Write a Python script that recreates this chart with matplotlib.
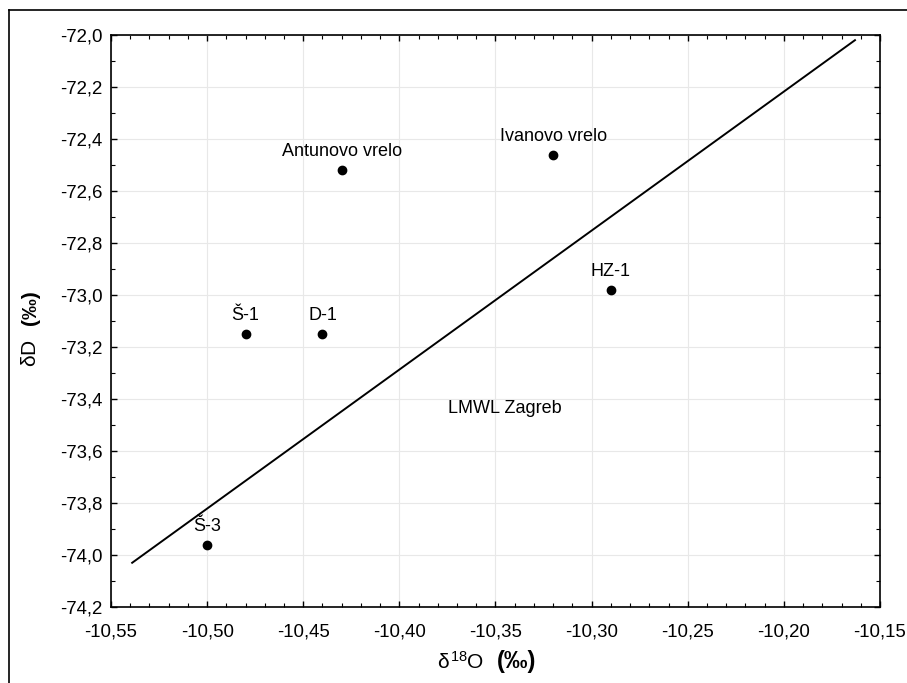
import matplotlib
matplotlib.use("Agg")
import matplotlib.pyplot as plt
from matplotlib.ticker import MultipleLocator, FuncFormatter
from matplotlib.lines import Line2D

plt.rcParams["font.family"] = ["Liberation Sans", "DejaVu Sans"]
plt.rcParams["mathtext.fontset"] = "custom"
plt.rcParams["mathtext.rm"] = "Liberation Sans"
plt.rcParams["mathtext.it"] = "Liberation Sans"
plt.rcParams["mathtext.bf"] = "Liberation Sans:bold"

# data
names = ["Antunovo vrelo", "Ivanovo vrelo", "HZ-1", "Š-1", "D-1", "Š-3"]
d18o = [-10.43, -10.32, -10.29, -10.48, -10.44, -10.50]
dD = [-72.52, -72.46, -72.98, -73.15, -73.15, -73.96]

# LMWL Zagreb
lmwl_x = [-10.539, -10.163]
lmwl_y = [-74.03, -72.02]

fig = plt.figure(figsize=(9.07, 6.83), dpi=100)
ax = fig.add_axes([0.1224, 0.1113, 0.8478, 0.8375])

ax.plot(lmwl_x, lmwl_y, color="black", lw=1.4, zorder=3)
ax.plot(d18o, dD, "o", color="black", ms=6, zorder=4)
for n, x, y in zip(names, d18o, dD):
    ax.annotate(n, (x, y), xytext=(0, 7), textcoords="offset points",
                ha="center", va="bottom", fontsize=13)
ax.text(-10.345, -73.435, "LMWL Zagreb", ha="center", va="center", fontsize=13)

ax.set_xlim(-10.55, -10.15)
ax.set_ylim(-74.2, -72.0)
ax.xaxis.set_major_locator(MultipleLocator(0.05))
ax.xaxis.set_minor_locator(MultipleLocator(0.01))
ax.yaxis.set_major_locator(MultipleLocator(0.2))
ax.yaxis.set_minor_locator(MultipleLocator(0.1))
ax.xaxis.set_major_formatter(FuncFormatter(lambda v, p: f"{v:.2f}".replace(".", ",")))
ax.yaxis.set_major_formatter(FuncFormatter(lambda v, p: f"{v:.1f}".replace(".", ",")))
ax.tick_params(which="both", direction="in", top=True, right=True, labelsize=13.4)
ax.tick_params(which="major", length=4, width=1)
ax.tick_params(which="minor", length=3, width=0.8)
ax.tick_params(axis="x", pad=12)
ax.tick_params(axis="y", pad=6)
ax.grid(True, which="major", color="#e8e8e8", lw=0.8)
ax.set_axisbelow(True)
for s in ax.spines.values():
    s.set_linewidth(1.2)

# axis titles: plain delta part + bold per-mille part
ax.text(0.454, -0.096, r"$\delta^{18}$O", transform=ax.transAxes,
        ha="center", va="center", fontsize=15)
ax.text(0.527, -0.096, "(‰)", transform=ax.transAxes,
        ha="center", va="center", fontsize=17, fontweight="bold")
ax.text(-0.105, 0.444, r"$\delta$D", transform=ax.transAxes, rotation=90,
        ha="center", va="center", fontsize=15)
ax.text(-0.105, 0.523, "(‰)", transform=ax.transAxes, rotation=90,
        ha="center", va="center", fontsize=15, fontweight="bold")

# outer frame (left and top edges only)
fig.add_artist(Line2D([0.0099, 0.0099], [0.0, 0.9854], color="black", lw=1.2,
                      transform=fig.transFigure))
fig.add_artist(Line2D([0.0099, 1.0], [0.9854, 0.9854], color="black", lw=1.2,
                      transform=fig.transFigure))

fig.savefig("out.png", dpi=100)
